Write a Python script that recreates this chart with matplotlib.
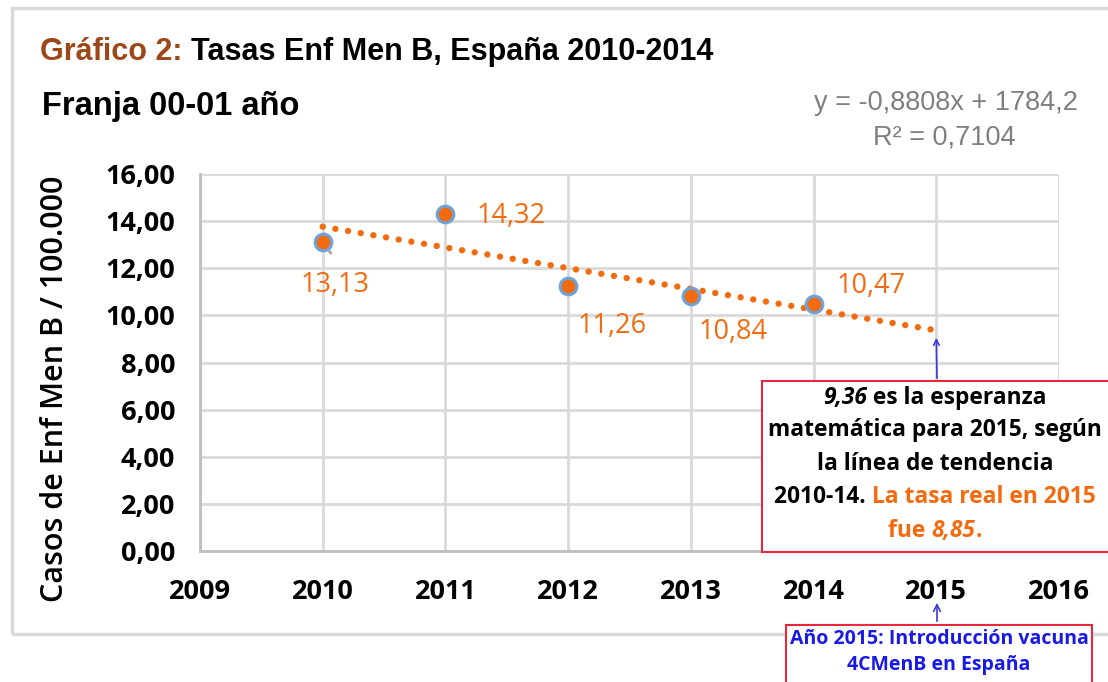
import matplotlib
matplotlib.use('Agg')
import numpy as np
import matplotlib.pyplot as plt
from matplotlib.patches import Rectangle, FancyArrowPatch

# datos
anios = [2010, 2011, 2012, 2013, 2014]
tasas = [13.13, 14.32, 11.26, 10.84, 10.47]
etiquetas = ['13,13', '14,32', '11,26', '10,84', '10,47']
yticks = [0, 2, 4, 6, 8, 10, 12, 14, 16]
xticks = [2009, 2010, 2011, 2012, 2013, 2014, 2015, 2016]

naranja = '#F26B0F'
marron = '#9C4818'
azul_borde = '#6FA3D8'
gris = '#D9D9D9'
fuente = ['Open Sans', 'DejaVu Sans']
titulo_f = ['Liberation Sans', 'DejaVu Sans']
W, H = 1108, 682

fig = plt.figure(figsize=(W / 100, H / 100), dpi=100)
renderer = fig.canvas.get_renderer()


def linea(yy, trozos, cx=None, x0=None, size=16, weight='bold', fam=fuente, z=6):
    # escribe varios trozos seguidos en una linea (pixeles desde arriba)
    textos = []
    for t, c, st in trozos:
        textos.append(fig.text(0, 1 - yy / H, t, color=c, style=st,
                               fontsize=size, fontweight=weight, family=fam,
                               va='center', zorder=z))
    anchos = [tx.get_window_extent(renderer).width for tx in textos]
    x = x0 if x0 is not None else cx - sum(anchos) / 2
    for tx, w in zip(textos, anchos):
        tx.set_x(x / W)
        x += w


# marco exterior del grafico
fig.patches.append(Rectangle((12 / W, 1 - 634 / H), 1.2, 626 / H,
                             transform=fig.transFigure, fill=False,
                             edgecolor=gris, linewidth=2.5))

ax = fig.add_axes([200 / W, 1 - 551 / H, 859 / W, 377 / H])

# linea de tendencia (ajuste lineal 2010-2014, prolongada a 2015)
pend, orig = np.polyfit(anios, tasas, 1)
xt = np.array([2010, 2015])
ax.plot(xt, pend * xt + orig, linestyle=(0, (0.01, 2.0)), color=naranja,
        linewidth=4.6, dash_capstyle='round', zorder=3)

ax.plot(anios, tasas, 'o', markersize=12, markerfacecolor=naranja,
        markeredgecolor=azul_borde, markeredgewidth=2.2, zorder=4)

# etiquetas de datos (desplazamientos en pixeles)
desplaz_px = [(12, -43), (66, -2), (44, -40), (42, -36), (58, 18)]
for x, y, t, d in zip(anios, tasas, etiquetas, desplaz_px):
    ax.annotate(t, (x, y), xytext=(d[0] * 0.72, d[1] * 0.72),
                textcoords='offset points', ha='center', va='center',
                fontsize=19.5, color=naranja, family=fuente)
ax.annotate('', (2010, 13.13), xytext=(7, -10), textcoords='offset points',
            arrowprops=dict(arrowstyle='-', color='#A6A6A6', lw=2))

ax.set_xlim(2009, 2016)
ax.set_ylim(0, 16)
ax.set_xticks(xticks)
ax.set_yticks(yticks)
ax.set_yticklabels([f'{v:.2f}'.replace('.', ',') for v in yticks])
ax.grid(True, color=gris, linewidth=2)
ax.set_axisbelow(True)
for s in ['top', 'right']:
    ax.spines[s].set_visible(False)
for s in ['left', 'bottom']:
    ax.spines[s].set_color('#BFBFBF')
    ax.spines[s].set_linewidth(2)
ax.tick_params(axis='y', length=0, pad=18)
ax.tick_params(axis='x', length=0, pad=20)
for lab in ax.get_xticklabels() + ax.get_yticklabels():
    lab.set_fontweight('bold')
    lab.set_fontsize(19.5)
    lab.set_family(fuente)
ax.set_ylabel('Casos de Enf Men B / 100.000', fontsize=22, family=fuente,
              fontweight='semibold', labelpad=14)
ax.yaxis.set_label_coords(-130 / 859, 0.43)

# titulos
linea(52, [('Gráfico 2: ', marron, 'normal'),
           ('Tasas Enf Men B, España 2010-2014', 'black', 'normal')],
      x0=40, size=22, fam=titulo_f)
linea(106, [('Franja 00-01 año', 'black', 'normal')], x0=42, size=23.5,
      fam=titulo_f)
fig.text(1078 / W, 1 - 103 / H, 'y = -0,8808x + 1784,2', color='#7F7F7F',
         fontsize=19.5, family=titulo_f, ha='right', va='center')
fig.text(944 / W, 1 - 138 / H, 'R² = 0,7104', color='#7F7F7F',
         fontsize=19.5, family=titulo_f, ha='center', va='center')

# cuadro de la esperanza matematica
fig.patches.append(Rectangle((762 / W, 1 - 552 / H), 360 / W, 171 / H,
                             transform=fig.transFigure, facecolor='white',
                             edgecolor='#E8283C', linewidth=1.5, zorder=5))
linea(398, [('9,36', 'black', 'italic'), (' es la esperanza', 'black', 'normal')], cx=935, size=16.4)
linea(430, [('matemática para 2015, según', 'black', 'normal')], cx=935, size=16.4)
linea(464, [('la línea de tendencia', 'black', 'normal')], cx=935, size=16.4)
linea(497, [('2010-14. ', 'black', 'normal'), ('La tasa real en 2015', naranja, 'normal')], cx=935, size=16.4)
linea(531, [('fue ', naranja, 'normal'), ('8,85', naranja, 'italic'), ('.', naranja, 'normal')], cx=935, size=16.4)

ax.annotate('', xy=(2015, pend * 2015 + orig - 0.2), xycoords='data',
            xytext=(937 / W, 1 - 381 / H), textcoords='figure fraction',
            arrowprops=dict(arrowstyle='->', color='#3B3BD9', lw=1.2))

# cuadro de la vacuna
fig.patches.append(Rectangle((786 / W, 1 - 690 / H), 306 / W, 65 / H,
                             transform=fig.transFigure, facecolor='white',
                             edgecolor='#E8283C', linewidth=1.5, zorder=5))
linea(639, [('Año 2015: Introducción vacuna', '#1A1AE6', 'normal')], cx=939, size=14)
linea(665, [('4CMenB en España', '#1A1AE6', 'normal')], cx=939, size=14)
fig.add_artist(FancyArrowPatch(
    (937 / W, 1 - 624 / H), (937 / W, 1 - 600 / H),
    transform=fig.transFigure, arrowstyle='->', mutation_scale=12,
    color='#3B3BD9', lw=1.2))

fig.savefig('out.png', dpi=100)
